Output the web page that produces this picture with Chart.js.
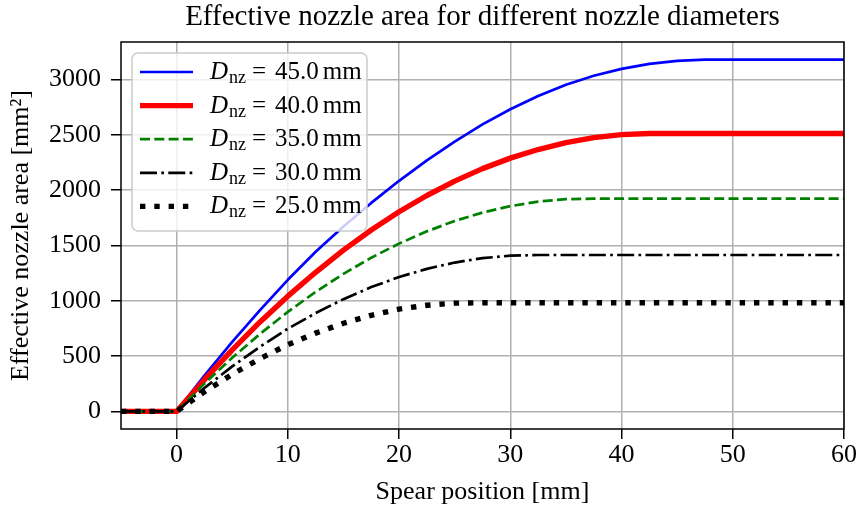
<!DOCTYPE html>
<html>
<head>
<meta charset="utf-8">
<script src="https://cdn.jsdelivr.net/npm/chart.js@4.4.0/dist/chart.umd.min.js"></script>
<style>
  html, body { margin: 0; padding: 0; background: #fff; }
  #wrap { width: 859px; height: 510px; }
</style>
</head>
<body>
<div id="wrap"><canvas id="chart" width="859" height="510"></canvas></div>
<script>
// spear position [mm]
const spearPos = [-5, 0, 2.5, 5, 7.5, 10, 12.5, 15, 17.5, 20, 22.5, 25, 27.5, 30, 32.5, 35, 37.5, 40, 42.5, 45, 47.5, 50, 55, 60];

// effective nozzle area [mm^2], one list per nozzle diameter
const areaD45 = [0, 0, 323, 628, 916, 1190, 1443, 1672, 1885, 2085, 2270, 2440, 2595, 2732, 2852, 2953, 3035, 3097, 3142, 3170, 3180, 3181, 3181, 3181];
const areaD40 = [0, 0, 287, 557, 809, 1042, 1258, 1458, 1640, 1805, 1952, 2082, 2195, 2290, 2368, 2430, 2476, 2503, 2513, 2513, 2513, 2513, 2513, 2513];
const areaD35 = [0, 0, 251, 485, 701, 900, 1081, 1244, 1390, 1517, 1628, 1722, 1798, 1856, 1897, 1919, 1924, 1924, 1924, 1924, 1924, 1924, 1924, 1924];
const areaD30 = [0, 0, 212, 407, 585, 748, 889, 1015, 1124, 1215, 1289, 1346, 1386, 1408, 1414, 1414, 1414, 1414, 1414, 1414, 1414, 1414, 1414, 1414];
const areaD25 = [0, 0, 177, 336, 477, 603, 708, 797, 869, 925, 960, 979, 982, 982, 982, 982, 982, 982, 982, 982, 982, 982, 982, 982];

const diameters = ['45.0', '40.0', '35.0', '30.0', '25.0'];
const xTicks = [0, 10, 20, 30, 40, 50, 60];
const yTicks = [0, 500, 1000, 1500, 2000, 2500, 3000];

const serif = '"Liberation Serif", "Times New Roman", serif';

const styles = [
  { color: '#0000ff', width: 2.7, dash: [] },
  { color: '#ff0000', width: 5.4, dash: [] },
  { color: '#008000', width: 2.7, dash: [10, 4.3] },
  { color: '#000000', width: 2.7, dash: [17, 4.3, 2.7, 4.3] },
  { color: '#000000', width: 5.4, dash: [5.4, 8.9] }
];

const series = [areaD45, areaD40, areaD35, areaD30, areaD25];

const datasets = series.map((vals, i) => ({
  label: 'D_nz = ' + diameters[i] + ' mm',
  data: spearPos.map((x, j) => ({ x: x, y: vals[j] })),
  borderColor: styles[i].color,
  borderWidth: styles[i].width,
  borderDash: styles[i].dash,
  borderCapStyle: 'butt',
  borderJoinStyle: 'round',
  pointRadius: 0,
  tension: 0,
  fill: false,
  order: series.length - i
}));

// frame, title and matplotlib-like legend
const decorations = {
  id: 'decorations',
  afterDatasetsDraw(chart) {
    const ctx = chart.ctx;
    const a = chart.chartArea;
    ctx.save();

    ctx.strokeStyle = '#000';
    ctx.lineWidth = 1.5;
    ctx.setLineDash([]);
    ctx.strokeRect(a.left, a.top, a.right - a.left, a.bottom - a.top);

    ctx.fillStyle = '#000';
    ctx.font = '29px ' + serif;
    ctx.textAlign = 'center';
    ctx.textBaseline = 'alphabetic';
    ctx.fillText('Effective nozzle area for different nozzle diameters', (a.left + a.right) / 2, 25);

    // legend box
    const bx = 132, by = 53, bw = 235, bh = 178, r = 6;
    ctx.beginPath();
    ctx.moveTo(bx + r, by);
    ctx.arcTo(bx + bw, by, bx + bw, by + bh, r);
    ctx.arcTo(bx + bw, by + bh, bx, by + bh, r);
    ctx.arcTo(bx, by + bh, bx, by, r);
    ctx.arcTo(bx, by, bx + bw, by, r);
    ctx.closePath();
    ctx.fillStyle = 'rgba(255,255,255,0.8)';
    ctx.fill();
    ctx.strokeStyle = '#cccccc';
    ctx.lineWidth = 1.5;
    ctx.stroke();

    chart.data.datasets.forEach((ds, i) => {
      const y = 72 + i * 33.6;
      ctx.beginPath();
      ctx.setLineDash(ds.borderDash);
      ctx.lineCap = 'butt';
      ctx.strokeStyle = ds.borderColor;
      ctx.lineWidth = ds.borderWidth;
      ctx.moveTo(140, y);
      ctx.lineTo(193, y);
      ctx.stroke();
      ctx.setLineDash([]);

      const base = y + 7;
      ctx.fillStyle = '#000';
      ctx.textAlign = 'left';
      ctx.font = 'italic 25px ' + serif;
      ctx.fillText('D', 210, base);
      const wD = ctx.measureText('D').width;
      ctx.font = '18px ' + serif;
      ctx.fillText('nz', 210 + wD + 1, base + 4);
      ctx.font = '25px ' + serif;
      ctx.fillText('=', 252, base);
      ctx.fillText(diameters[i], 275, base);
      const wN = ctx.measureText(diameters[i]).width;
      ctx.fillText('mm', 275 + wN + 4, base);
    });

    ctx.restore();
  }
};

new Chart(document.getElementById('chart'), {
  type: 'line',
  data: { datasets: datasets },
  options: {
    responsive: false,
    animation: false,
    devicePixelRatio: 1,
    layout: { padding: { left: 0, right: 15, top: 42, bottom: 0 } },
    plugins: {
      legend: { display: false },
      tooltip: { enabled: false },
      title: { display: false }
    },
    scales: {
      x: {
        type: 'linear',
        min: -5,
        max: 60,
        afterFit(scale) { scale.height = 81; },
        afterBuildTicks(scale) { scale.ticks = xTicks.map(v => ({ value: v })); },
        border: { display: false },
        grid: { color: '#b0b0b0', lineWidth: 1.5, tickColor: '#000', tickWidth: 1.5, tickLength: 10 },
        ticks: {
          color: '#000', padding: 1, maxRotation: 0,
          font: { family: serif, size: 26 },
          callback: v => String(v)
        },
        title: {
          display: true,
          text: 'Spear position [mm]',
          color: '#000',
          font: { family: serif, size: 26 },
          padding: { top: 0, bottom: 2 }
        }
      },
      y: {
        type: 'linear',
        min: -159,
        max: 3340,
        afterFit(scale) { scale.width = 121; },
        afterBuildTicks(scale) { scale.ticks = yTicks.map(v => ({ value: v })); },
        border: { display: false },
        grid: { color: '#b0b0b0', lineWidth: 1.5, tickColor: '#000', tickWidth: 1.5, tickLength: 10 },
        ticks: {
          color: '#000', padding: 10,
          font: { family: serif, size: 26 },
          callback: v => String(v)
        },
        title: {
          display: true,
          text: 'Effective nozzle area [mm²]',
          color: '#000',
          font: { family: serif, size: 26 },
          padding: { top: 6, bottom: 0 }
        }
      }
    }
  },
  plugins: [decorations]
});
</script>
</body>
</html>
